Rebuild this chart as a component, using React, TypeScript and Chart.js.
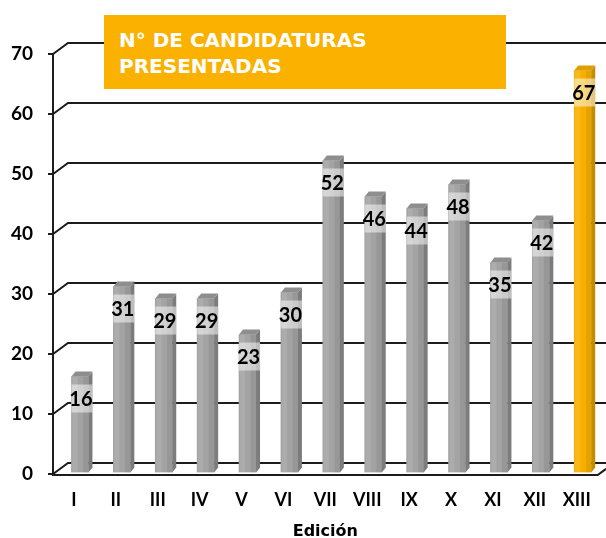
import React, { useEffect, useRef } from "react";
import { Chart, registerables } from "chart.js";

Chart.register(...registerables);

// ---- data ----
const EDITIONS = ["I", "II", "III", "IV", "V", "VI", "VII", "VIII", "IX", "X", "XI", "XII", "XIII"];
const CANDIDATURES = [16, 31, 29, 29, 23, 30, 52, 46, 44, 48, 35, 42, 67];
const Y_TICKS = [0, 10, 20, 30, 40, 50, 60, 70];
const TITLE_LINES = ["N° DE CANDIDATURAS", "PRESENTADAS"];
const X_TITLE = "Edición";
const HIGHLIGHT_INDEX = 12;

// ---- style ----
const FONT = "Lato, 'Open Sans', 'DejaVu Sans', sans-serif";
const WIDE_FONT = "'DejaVu Sans', Verdana, sans-serif";
const LINE = "#1c1c1c";
const ORANGE = "#FBB100";
const GRAY = { front: "#a3a3a3", side: "#7c7c7c", cap: "#8e8e8e" };
const GOLD = { front: "#F7B000", side: "#C68C00", cap: "#DEA000" };
const WALL_DX = 15;
const WALL_DY = 11;
const BAR_DX = 6;
const BAR_DY = -1.5;
const CAP_DX = 4;
const CAP_DY = 5;
const LABEL_OFFSET = 22;
const BAND_HALF = 14;

const threeD = {
  id: "threeD",
  beforeDatasetsDraw(chart: any) {
    const { ctx, chartArea, scales } = chart;
    const { left, right, bottom } = chartArea;
    const y = scales.y;
    ctx.save();
    ctx.strokeStyle = LINE;
    ctx.lineWidth = 2;
    for (const v of Y_TICKS) {
      const py = Math.round(y.getPixelForValue(v));
      ctx.beginPath();
      ctx.moveTo(left - 5, py);
      ctx.lineTo(left, py);
      ctx.lineTo(left + WALL_DX, py - WALL_DY);
      ctx.lineTo(chart.width, py - WALL_DY);
      ctx.stroke();
    }
    // vertical axis
    ctx.beginPath();
    ctx.moveTo(left, Math.round(y.getPixelForValue(Y_TICKS[Y_TICKS.length - 1])));
    ctx.lineTo(left, bottom + 2);
    ctx.stroke();
    // floor front edge
    const fy = Math.round(bottom) + 1;
    ctx.beginPath();
    ctx.moveTo(left, fy);
    ctx.lineTo(right, fy);
    ctx.lineTo(chart.width, fy - ((chart.width - right) * WALL_DY) / WALL_DX);
    ctx.stroke();
    ctx.restore();
    ctx.save();
    ctx.translate(BAR_DX, BAR_DY);
  },
  afterDatasetsDraw(chart: any) {
    const { ctx } = chart;
    ctx.restore();
    const meta = chart.getDatasetMeta(0);
    const data = chart.data.datasets[0].data;
    ctx.save();
    meta.data.forEach((el: any, i: number) => {
      const p = el.getProps(["x", "y", "base", "width"], true);
      const pal = i === HIGHLIGHT_INDEX ? GOLD : GRAY;
      const x0 = p.x - p.width / 2 + BAR_DX;
      const x1 = p.x + p.width / 2 + BAR_DX;
      const t = p.y + BAR_DY;
      const b = p.base + BAR_DY;
      const w = x1 - x0;
      // front shading
      ctx.fillStyle = "rgba(0,0,0,0.07)";
      ctx.fillRect(x0 + w * 0.68, t, w * 0.32, b - t);
      ctx.fillStyle = "rgba(255,255,255,0.10)";
      ctx.fillRect(x0 + 1, t, w * 0.3, b - t);
      // side face
      ctx.fillStyle = pal.side;
      ctx.beginPath();
      ctx.moveTo(x1, t);
      ctx.lineTo(x1 + CAP_DX, t - CAP_DY);
      ctx.lineTo(x1 + CAP_DX, b - CAP_DY);
      ctx.lineTo(x1, b);
      ctx.closePath();
      ctx.fill();
      // cap
      ctx.fillStyle = pal.cap;
      ctx.beginPath();
      ctx.moveTo(x0, t);
      ctx.lineTo(x0 + CAP_DX, t - CAP_DY);
      ctx.lineTo(x1 + CAP_DX, t - CAP_DY);
      ctx.lineTo(x1, t);
      ctx.closePath();
      ctx.fill();
      // label band
      const cy = t + LABEL_OFFSET;
      ctx.fillStyle = "rgba(255,255,255,0.5)";
      ctx.fillRect(x0, cy - BAND_HALF, w + CAP_DX, BAND_HALF * 2);
      // label
      ctx.fillStyle = "#000";
      ctx.font = `bold 20px ${FONT}`;
      ctx.textAlign = "center";
      ctx.textBaseline = "middle";
      ctx.fillText(String(data[i]), (x0 + x1) / 2 + 1, cy + 1);
    });
    ctx.restore();
  },
};

export default function App() {
  const ref = useRef<HTMLCanvasElement | null>(null);

  useEffect(() => {
    if (!ref.current) return;
    const chart = new Chart(ref.current, {
      type: "bar",
      data: {
        labels: EDITIONS,
        datasets: [
          {
            data: CANDIDATURES,
            backgroundColor: CANDIDATURES.map((_, i) => (i === HIGHLIGHT_INDEX ? GOLD.front : GRAY.front)),
            borderWidth: 0,
            barThickness: 17,
          },
        ],
      },
      options: {
        animation: false,
        responsive: false,
        devicePixelRatio: 1,
        events: [],
        layout: { padding: { top: 54, right: 6, left: 0, bottom: 0 } },
        plugins: { legend: { display: false }, tooltip: { enabled: false }, title: { display: false } },
        scales: {
          x: {
            grid: { display: false, drawTicks: false },
            border: { display: false },
            ticks: {
              color: "#000",
              font: { family: FONT, size: 18, weight: "bold" },
              padding: 15,
              maxRotation: 0,
              autoSkip: false,
            },
            title: {
              display: true,
              text: X_TITLE,
              color: "#000",
              font: { family: WIDE_FONT, size: 16, weight: "bold" },
              padding: { top: 0, bottom: -3 },
            },
            afterFit(s: any) {
              s.height = 64;
            },
          },
          y: {
            min: 0,
            max: 70,
            grid: { display: false, drawTicks: false },
            border: { display: false },
            ticks: {
              stepSize: 10,
              color: "#000",
              font: { family: FONT, size: 19, weight: "bold" },
              padding: 20,
            },
            afterFit(s: any) {
              s.width = 53;
            },
          },
        },
      },
      plugins: [threeD],
    });
    return () => chart.destroy();
  }, []);

  return (
    <div style={{ position: "absolute", left: 0, top: 0, width: 606, height: 538, background: "#fff" }}>
      <canvas ref={ref} width={606} height={538} style={{ display: "block" }} />
      <div
        style={{
          position: "absolute",
          left: 104,
          top: 15,
          width: 402,
          height: 74,
          boxSizing: "border-box",
          background: ORANGE,
          color: "#fff",
          fontFamily: WIDE_FONT,
          fontWeight: 700,
          fontSize: 20,
          lineHeight: "26px",
          paddingLeft: 15,
          paddingTop: 12,
          whiteSpace: "nowrap",
        }}
      >
        {TITLE_LINES.map((l) => (
          <div key={l}>{l}</div>
        ))}
      </div>
    </div>
  );
}
